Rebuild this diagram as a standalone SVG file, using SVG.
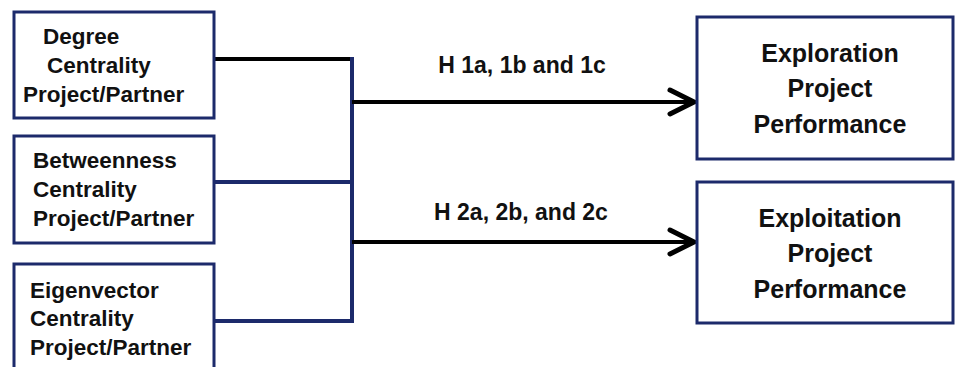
<svg xmlns="http://www.w3.org/2000/svg" width="955" height="367" viewBox="0 0 955 367">
<style>
.box{fill:#fff;stroke:#1c2a6b;stroke-width:3}
.t{font-family:"Liberation Sans",Arial,sans-serif;font-weight:bold;fill:#111}
.l{font-size:22.5px}
.r{font-size:25px;text-anchor:middle}
.lab{font-size:23px;text-anchor:middle}
.blk{stroke:#000;stroke-width:4;fill:none}
.nav{stroke:#1c2a6b;stroke-width:4;fill:none}
.head{stroke:#000;stroke-width:5;fill:none;stroke-linecap:round;stroke-linejoin:miter}
</style>
<rect width="955" height="367" fill="#fff"/>
<g id="connectors">
<line class="blk" x1="215" y1="59" x2="352" y2="59"/>
<line class="nav" x1="215" y1="182" x2="352" y2="182"/>
<line class="nav" x1="215" y1="321" x2="352" y2="321"/>
<line class="nav" x1="352" y1="57" x2="352" y2="323"/>
<line class="blk" x1="352" y1="102" x2="694" y2="102"/>
<polyline class="head" points="670,90 694,102 670,114"/>
<line class="blk" x1="352" y1="242" x2="694" y2="242"/>
<polyline class="head" points="670,230 694,242 670,254"/>
<text class="t lab" x="522" y="73">H 1a, 1b and 1c</text>
<text class="t lab" x="521" y="220">H 2a, 2b, and 2c</text>
</g>
<g id="degree">
<rect class="box" x="14" y="12" width="200" height="106"/>
<text class="t l" x="43" y="44">Degree</text>
<text class="t l" x="47" y="73">Centrality</text>
<text class="t l" x="23" y="102">Project/Partner</text>
</g>
<g id="betweenness">
<rect class="box" x="14" y="136" width="200" height="107"/>
<text class="t l" x="33" y="168">Betweenness</text>
<text class="t l" x="33" y="197">Centrality</text>
<text class="t l" x="33" y="226">Project/Partner</text>
</g>
<g id="eigenvector">
<rect class="box" x="14" y="264" width="200" height="110"/>
<text class="t l" x="30" y="298">Eigenvector</text>
<text class="t l" x="30" y="326">Centrality</text>
<text class="t l" x="30" y="355">Project/Partner</text>
</g>
<g id="exploration">
<rect class="box" x="697" y="17" width="256" height="142"/>
<text class="t r" x="830" y="62">Exploration</text>
<text class="t r" x="830" y="97">Project</text>
<text class="t r" x="830" y="133">Performance</text>
</g>
<g id="exploitation">
<rect class="box" x="697" y="182" width="256" height="141"/>
<text class="t r" x="830" y="227">Exploitation</text>
<text class="t r" x="830" y="262">Project</text>
<text class="t r" x="830" y="298">Performance</text>
</g>
</svg>
